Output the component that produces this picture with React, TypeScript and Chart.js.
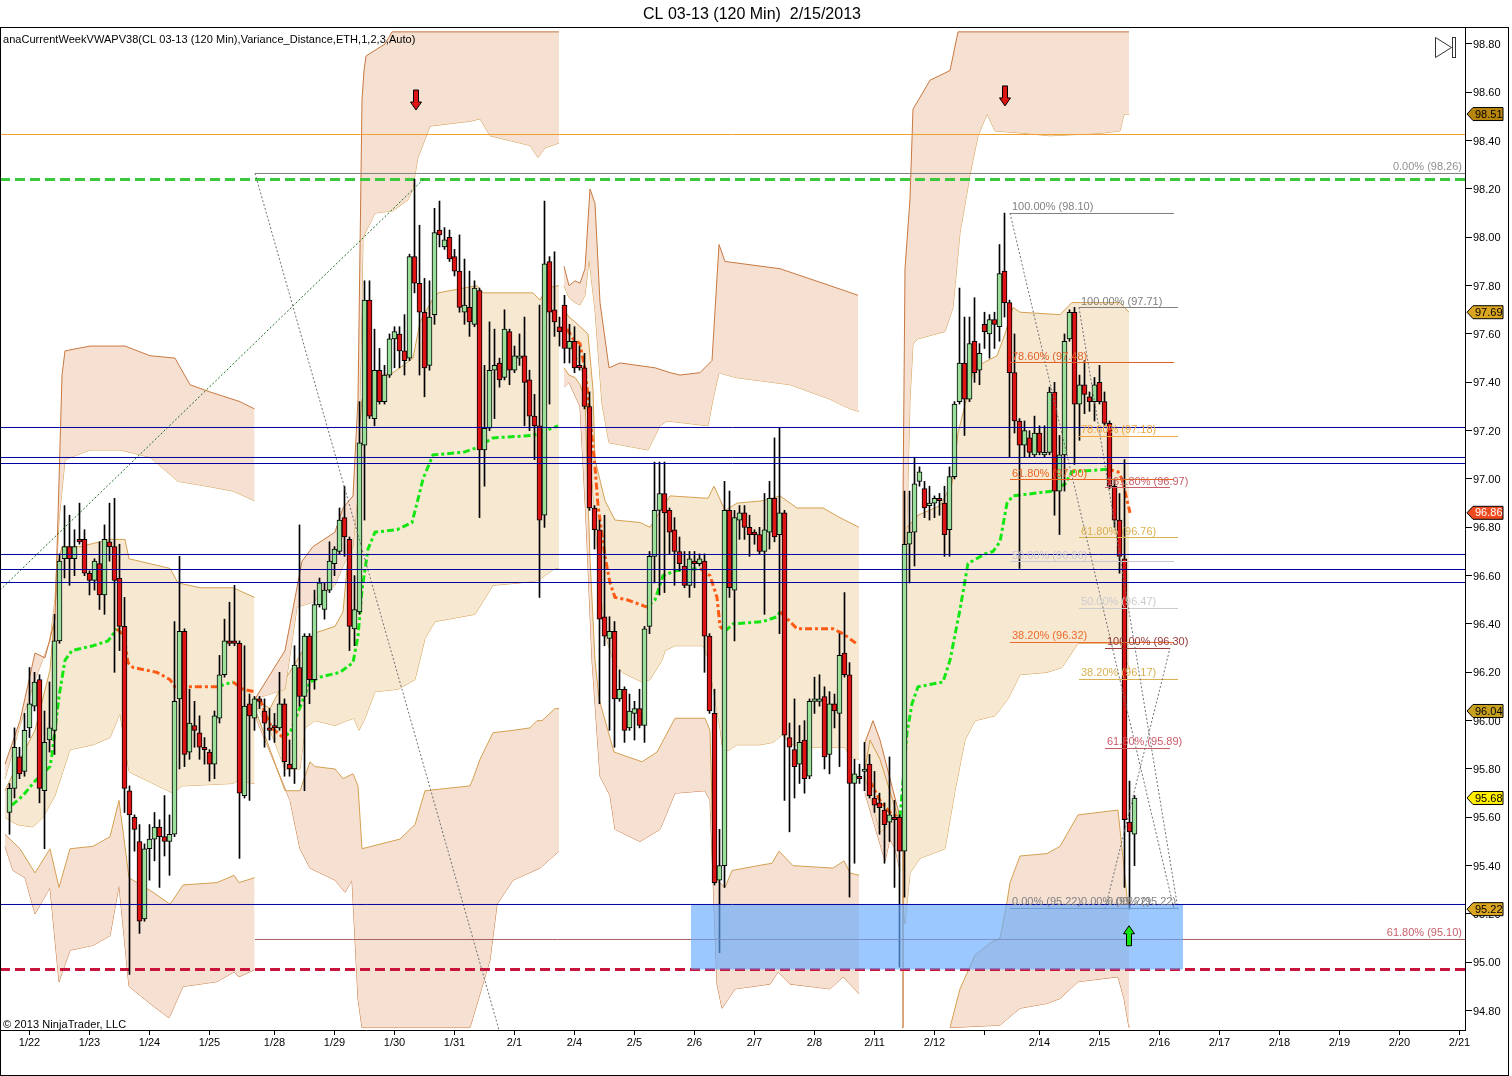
import React, { useEffect, useRef } from "react";
import { Chart, registerables } from "chart.js";

Chart.register(...registerables);

const FONT = "'Liberation Sans', Arial, sans-serif";

const opens = [95.62,95.72,95.85,95.79,95.97,96.06,96.17,95.71,95.92,95.96,96.33,96.67,96.72,96.67,96.75,96.75,96.61,96.58,96.65,96.52,96.74,96.72,96.59,96.39,95.71,95.60,95.50,95.18,95.47,95.51,95.56,95.52,95.50,95.53,96.09,96.37,95.87,95.98,95.95,95.89,95.87,95.82,96.01,96.19,96.33,96.33,96.32,95.69,96.07,96.01,96.09,96.04,95.97,95.98,95.97,96.07,95.82,95.80,96.22,96.10,96.35,96.17,96.48,96.46,96.54,96.65,96.70,96.84,96.75,96.38,96.45,97.14,97.74,97.25,97.45,97.32,97.43,97.58,97.60,97.53,97.50,97.92,97.81,97.69,97.47,97.68,98.03,97.96,98.00,97.92,97.86,97.69,97.71,97.64,97.78,97.12,97.21,97.45,97.48,97.42,97.61,97.45,97.50,97.51,97.41,97.26,97.22,96.85,97.90,97.70,97.63,97.72,97.54,97.57,97.47,97.46,97.30,96.88,96.79,96.43,96.34,96.37,96.09,96.13,95.97,96.03,96.05,95.98,96.39,96.68,96.87,96.94,96.87,96.79,96.70,96.64,96.56,96.66,96.65,96.66,96.35,96.03,95.34,95.40,96.87,96.54,96.83,96.86,96.80,96.78,96.77,96.70,96.78,96.92,96.77,96.86,95.93,95.88,95.82,95.92,95.77,96.08,96.08,96.10,95.86,96.07,96.03,96.28,96.19,95.74,95.77,95.79,95.82,95.68,95.66,95.63,95.58,95.60,95.60,95.46,96.73,96.78,96.99,96.96,96.89,96.90,96.92,96.90,96.79,97.01,97.32,97.48,97.33,97.57,97.45,97.64,97.60,97.66,97.63,97.86,97.73,97.44,97.24,97.14,97.17,97.10,97.19,97.10,97.11,97.36,96.95,97.10,97.58,97.69,97.31,97.39,97.34,97.32,97.40,97.32,97.23,96.97,96.83,96.67,95.58,95.53];
const closes = [95.72,95.89,95.78,95.96,96.07,96.16,95.72,95.91,95.97,96.33,96.66,96.72,96.67,96.72,96.74,96.61,96.58,96.66,96.52,96.75,96.72,96.58,96.39,95.72,95.61,95.55,95.17,95.47,95.51,95.56,95.52,95.50,95.53,96.08,96.37,95.86,95.99,95.96,95.89,95.88,95.82,96.02,96.19,96.33,96.32,96.32,95.70,96.06,96.02,96.09,96.08,95.99,95.96,95.97,96.07,95.83,95.80,96.23,96.10,96.35,96.17,96.48,96.57,96.54,96.66,96.71,96.83,96.76,96.39,96.46,97.15,97.74,97.26,97.45,97.32,97.43,97.58,97.61,97.53,97.49,97.92,97.81,97.69,97.46,97.67,98.02,98.01,97.99,97.91,97.86,97.71,97.72,97.65,97.79,97.12,97.21,97.45,97.47,97.41,97.62,97.45,97.51,97.51,97.40,97.26,97.22,96.83,97.89,97.69,97.65,97.61,97.54,97.57,97.46,97.46,97.30,96.88,96.79,96.42,96.35,96.37,96.09,96.13,95.96,96.04,96.05,95.98,96.38,96.68,96.87,96.94,96.86,96.78,96.70,96.65,96.56,96.67,96.65,96.67,96.35,96.04,95.33,95.40,96.87,96.55,96.84,96.86,96.80,96.77,96.77,96.70,96.79,96.92,96.76,96.86,95.94,95.89,95.81,95.91,95.76,96.08,96.09,96.09,95.85,96.07,96.04,96.27,96.19,95.74,95.78,95.76,95.80,95.69,95.65,95.64,95.57,95.61,95.59,95.46,96.73,96.78,96.98,97.03,96.88,96.90,96.92,96.91,96.77,97.01,97.31,97.48,97.33,97.56,97.44,97.52,97.61,97.66,97.64,97.85,97.73,97.44,97.24,97.14,97.20,97.11,97.19,97.11,97.11,97.36,96.95,97.10,97.57,97.69,97.31,97.39,97.35,97.32,97.39,97.32,97.23,96.97,96.83,96.68,95.59,95.54,95.68];
const highs = [95.74,95.97,95.89,96.03,96.22,96.20,96.19,96.04,96.16,96.44,96.69,96.89,96.85,96.79,96.90,96.79,96.62,96.67,96.74,96.81,96.90,96.92,96.73,96.51,95.73,95.61,95.57,95.49,95.57,95.62,95.59,95.69,95.61,96.41,96.68,96.38,96.13,96.08,96.02,95.93,95.88,96.04,96.27,96.42,96.49,96.56,96.33,96.31,96.11,96.10,96.10,96.09,96.05,96.03,96.20,96.09,95.92,96.31,96.81,96.36,96.36,96.54,96.59,96.57,96.74,96.72,96.88,96.97,96.76,96.60,97.32,97.82,97.82,97.62,97.54,97.47,97.60,97.63,97.63,97.68,97.93,98.24,98.05,97.83,97.82,98.12,98.15,98.04,98.03,97.95,98.01,97.91,97.86,97.82,97.79,97.47,97.65,97.62,97.50,97.70,97.62,97.55,97.60,97.67,97.45,97.35,97.72,98.15,97.92,97.94,97.67,97.76,97.64,97.63,97.55,97.52,97.36,96.89,96.83,96.85,96.43,96.41,96.21,96.14,96.11,96.08,96.13,96.39,96.70,97.07,97.07,97.07,96.88,96.84,96.76,96.70,96.70,96.70,96.69,96.69,96.36,96.13,95.55,96.99,96.95,96.87,96.89,96.89,96.85,96.79,96.80,96.94,96.99,97.17,97.21,96.87,95.99,96.09,95.98,96.00,96.09,96.18,96.19,96.14,96.12,96.11,96.36,96.53,96.24,95.84,95.82,95.91,95.86,95.79,95.70,95.66,95.85,95.67,95.61,96.95,96.95,97.09,97.05,96.99,96.97,96.93,96.94,96.97,97.05,97.32,97.79,97.67,97.67,97.75,97.56,97.69,97.68,97.69,97.97,98.10,97.74,97.60,97.25,97.24,97.20,97.26,97.22,97.22,97.38,97.40,97.18,97.60,97.70,97.71,97.43,97.49,97.36,97.42,97.47,97.36,97.24,97.00,96.94,97.08,95.75,95.69];
const lows = [95.53,95.68,95.76,95.77,95.93,96.04,95.66,95.47,95.87,95.86,96.32,96.59,96.56,96.60,96.73,96.60,96.52,96.54,96.46,96.44,96.66,96.20,96.29,95.62,94.95,95.46,95.12,95.17,95.34,95.42,95.31,95.44,95.36,95.52,95.80,95.81,95.84,95.89,95.84,95.82,95.75,95.76,95.99,96.18,96.31,96.31,95.43,95.68,95.67,95.96,96.05,95.89,95.92,95.91,95.96,95.77,95.77,95.74,96.06,95.71,96.07,96.13,96.47,96.42,96.53,96.60,96.69,96.68,96.29,96.31,96.44,96.83,97.25,97.22,97.31,97.31,97.42,97.46,97.46,97.43,97.49,97.77,97.43,97.34,97.45,97.64,97.96,97.95,97.90,97.84,97.69,97.64,97.59,97.63,96.84,96.97,97.20,97.25,97.38,97.41,97.39,97.44,97.47,97.22,97.20,97.08,96.51,96.80,97.31,97.59,97.55,97.48,97.48,97.44,97.45,97.29,96.87,96.71,96.07,96.31,95.96,95.89,96.08,95.91,95.96,95.92,95.97,95.91,96.36,96.57,96.52,96.53,96.69,96.56,96.62,96.55,96.51,96.55,96.64,96.20,96.03,95.32,95.04,95.31,96.51,96.33,96.75,96.75,96.68,96.73,96.69,96.44,96.71,96.74,96.36,95.67,95.54,95.68,95.74,95.70,95.76,96.03,96.06,95.80,95.78,95.97,95.81,96.18,95.27,95.41,95.74,95.71,95.68,95.62,95.53,95.41,95.50,95.31,94.98,95.27,96.57,96.64,96.97,96.84,96.83,96.84,96.85,96.68,96.68,97.00,97.31,97.18,97.32,97.40,97.39,97.54,97.50,97.54,97.57,97.67,97.09,97.19,96.63,97.09,97.09,97.09,97.10,97.09,97.10,96.85,96.77,96.95,97.57,97.06,97.16,97.27,97.28,97.24,97.31,97.22,96.96,96.80,96.61,95.31,95.22,95.40];

const tickBars = [5,17,29,41,54,66,78,90,102,114,126,138,150,162,174,186,196,207,219,231,243,255,267,279,291];
const tickLabels = ["1/22","1/23","1/24","1/25","1/28","1/29","1/30","1/31","2/1","2/4","2/5","2/6","2/7","2/8","2/11","2/12","","2/14","2/15","2/16","2/17","2/18","2/19","2/20","2/21"];

// Week 1 indicator bands
const w1OuterTopX = [0.1,3.1,6.1,8.1,10.1,10.9,11.5,12.1,17.1,24.1,29.1,34.1,37.1,41.1,47.1,50];
const w1OuterTop = [95.82,96.00,96.28,96.26,96.42,96.99,97.43,97.53,97.55,97.55,97.51,97.50,97.39,97.36,97.32,97.29];
const w1OuterBotX = [0.1,3.1,6.1,9.1,10.1,10.9,12.1,17.1,23.1,29.1,34.7,40.5,45.7,50];
const w1OuterBot = [95.76,95.98,96.17,96.33,96.50,96.83,97.08,97.12,97.12,97.09,96.99,96.97,96.95,96.91];
const w1InUpX = [0.1,3.1,6.1,9.1,10.9,11.5,15.1,21.1,24.1,24.9,33.1,34.7,39.1,45.7,50];
const w1InUp = [95.71,95.84,95.96,96.21,96.67,96.72,96.72,96.75,96.75,96.67,96.63,96.57,96.55,96.55,96.51];
const w1InLowX = [0.1,2.5,5.7,7.7,10.1,13.1,17.7,21.1,23.1,24.9,25.7,33.7,35.5,45.7,46.5,50];
const w1InLow = [95.60,95.57,95.56,95.60,95.69,95.88,95.90,95.93,96.03,95.79,95.78,95.70,95.73,95.74,95.75,95.74];
const w1LowTopX = [0.1,3.1,6.1,9.1,10.9,13.1,17.7,21.1,22.9,24.9,29.7,33.1,35.7,42.5,45.9,46.9,50];
const w1LowTop = [95.53,95.47,95.37,95.47,95.31,95.47,95.48,95.52,95.67,95.35,95.29,95.24,95.32,95.33,95.36,95.33,95.35];
const w1LowBotX = [0.1,1.7,4.1,6.1,9.1,10.9,13.1,17.7,21.1,22.9,24.9,29.7,32.9,35.7,42.5,45.9,46.9,50];
const w1LowBot = [95.48,95.38,95.35,95.20,95.31,94.92,95.05,95.07,95.11,95.32,94.90,94.82,94.77,94.90,94.92,94.96,94.94,94.97];
const w1VwapX = [1.5,3.7,6.1,9.1,9.5,10.1,10.9,12.1,13.5,17.7,20.7,22.5,23.9,24.7,25.7,30.5,33.1,34.1,42.5,45.7,47.7,50];
const w1Vwap = [95.65,95.69,95.75,95.81,95.86,95.96,96.10,96.25,96.29,96.31,96.33,96.38,96.35,96.24,96.22,96.20,96.17,96.14,96.14,96.16,96.13,96.12];

// Week 2
const w2OuterTopX = [50.1,56.1,59.5,61.7,66.1,67.7,69.7,70.7,71.5,71.9,72.3,76.1,77.5,110.9];
const w2OuterTop = [96.09,96.29,96.66,96.72,96.78,96.88,96.93,97.33,98.57,98.69,98.75,98.80,98.85,98.85];
const w2OuterBotX = [50.1,56.1,58.5,61.7,66.1,67.7,69.7,70.7,71.5,71.7,74.1,77.7,80.7,81.7,82.1,82.7,85.1,93.1,95.1,97.1,105.1,106.7,108.1,110.9];
const w2OuterBot = [96.09,96.13,96.47,96.49,96.56,96.64,96.72,96.95,97.74,98.00,98.10,98.11,98.155,98.20,98.26,98.33,98.46,98.48,98.49,98.42,98.38,98.33,98.37,98.39];
const w2InUpX = [50.1,53.1,56.1,59.1,61.7,66.1,67.7,70.1,71.5,73.5,77.7,81.7,83.1,85.5,86.7,94.5,95.7,105.7,107.1,108.5,110.9];
const w2InUp = [96.09,96.05,96.17,96.27,96.36,96.39,96.45,96.995,97.33,97.42,97.44,97.50,97.65,97.74,97.77,97.80,97.77,97.77,97.74,97.79,97.80];
const w2InLowX = [50.1,53.1,56.1,59.1,60.1,62.1,66.1,68.5,69.9,70.9,72.1,74.1,78.7,82.1,84.1,86.1,94.1,97.7,103.1,106.7,110.1,110.9];
const w2InLow = [96.07,95.96,95.80,95.80,95.97,96.00,95.98,96.00,96.01,95.96,96.01,96.12,96.13,96.17,96.34,96.41,96.44,96.56,96.57,96.58,96.63,96.63];
const w2LowTopX = [50.1,56.1,59.1,61.1,62.1,66.1,67.7,69.7,70.7,71.5,79.1,82.1,84.1,93.1,93.7,95.1,97.7,101.7,105.1,106.5,107.5,110.1,110.9];
const w2LowTop = [96.05,95.71,95.71,95.83,95.81,95.80,95.76,95.78,95.73,95.47,95.51,95.57,95.71,95.73,95.76,95.84,95.95,95.96,95.97,96.00,96.00,96.05,96.05];
const w2LowBotX = [50.1,57.1,59.1,61.1,66.1,68.1,69.5,70.7,71.5,93.1,97.1,98.5,101.7,107.1,110.9];
const w2LowBot = [96.02,95.67,95.47,95.39,95.34,95.29,95.34,94.85,94.73,94.73,95.01,95.24,95.34,95.39,95.46];
const w2VwapX = [51.1,52.1,53.5,55.7,57.1,61.1,63.1,67.1,69.7,70.7,71.5,72.7,74.1,78.5,81.5,82.5,83.7,85.7,91.7,94.5,97.7,105.7,110.7];
const w2Vwap = [96.09,96.03,95.97,95.93,95.95,96.16,96.18,96.20,96.24,96.35,96.54,96.71,96.78,96.79,96.82,96.90,97.00,97.10,97.11,97.13,97.17,97.18,97.22];

// Week 3
const w3OuterTopX = [111.9,112.9,114.1,115.1,116.1,117.1,118.1,119.1,120.9,123.1,130.1,133.1,135.1,139.1,141.5,142.9,144.1,155.1,165.1,170.7];
const w3OuterTop = [97.88,97.80,97.82,97.81,97.87,98.20,98.14,97.73,97.46,97.48,97.46,97.44,97.43,97.44,97.49,97.97,97.90,97.87,97.80,97.76];
const w3OuterBotX = [111.9,112.9,114.1,115.1,116.1,116.9,118.1,119.5,120.9,128.7,131.1,132.5,140.7,141.7,142.9,146.1,157.1,165.1,169.1,170.9];
const w3OuterBot = [97.80,97.75,97.73,97.72,97.76,97.91,97.70,97.31,97.15,97.12,97.22,97.24,97.22,97.33,97.44,97.42,97.39,97.33,97.29,97.28];
const w3InUpX = [111.9,112.9,114.1,116.7,117.7,118.1,120.1,122.1,127.1,129.1,133.1,140.7,141.9,144.1,146.5,151.7,155.1,158.5,163.7,167.1,170.9];
const w3InUp = [97.70,97.67,97.65,97.60,97.37,97.08,96.91,96.83,96.82,96.80,96.93,96.92,96.97,96.87,96.90,96.91,96.93,96.88,96.88,96.84,96.80];
const w3InLowX = [111.9,114.1,116.1,117.5,118.7,120.1,121.7,123.5,127.5,129.1,131.5,132.1,134.1,139.7,140.7,142.1,143.1,143.7,145.1,146.5,151.1,153.7,155.5,157.7,161.7,168.1,169.1,170.9];
const w3InLow = [97.55,97.53,97.41,97.00,96.67,96.36,96.25,96.20,96.16,96.17,96.25,96.29,96.31,96.31,96.26,96.09,95.97,95.87,95.88,95.90,95.90,95.91,95.94,95.90,95.89,95.89,95.85,95.84];
const w3LowTopX = [111.9,112.9,114.1,115.1,116.1,117.1,118.1,118.9,121.9,127.5,130.5,134.1,140.1,141.1,141.9,144.1,145.5,150.7,153.5,154.9,157.7,165.7,167.9,169.1,170.9];
const w3LowTop = [97.46,97.43,97.42,97.39,97.33,96.67,96.25,96.09,95.87,95.83,95.87,96.01,96.01,95.96,95.35,95.31,95.38,95.40,95.41,95.46,95.40,95.39,95.42,95.37,95.36];
const w3LowBotX = [111.9,112.9,115.1,116.3,117.5,119.1,121.1,122.1,127.1,131.1,134.1,140.1,141.1,142.5,143.5,146.1,153.1,154.7,157.1,165.1,167.7,170.9];
const w3LowBot = [97.38,97.40,97.30,96.83,96.25,95.77,95.69,95.55,95.50,95.55,95.70,95.71,95.67,94.91,94.81,94.89,94.91,94.96,94.91,94.89,94.94,94.87];
const w3VwapX = [112.5,113.7,115.1,116.1,116.7,118.1,118.7,120.1,121.1,122.1,124.5,128.5,130.1,131.7,134.1,139.1,141.1,142.5,143.1,144.1,145.7,151.7,154.5,155.1,157.1,158.5,165.7,167.7,170.3];
const w3Vwap = [97.62,97.58,97.56,97.45,97.34,97.05,96.89,96.68,96.57,96.51,96.50,96.47,96.50,96.60,96.62,96.63,96.60,96.51,96.39,96.37,96.40,96.41,96.43,96.45,96.41,96.38,96.38,96.36,96.32];

// Short session wedge
const wedgeTopX = [172.1,173.7,175.1,179.1];
const wedgeTop = [95.91,96.00,95.92,95.60];
const wedgeBotX = [172.1,176.1,177.1,178.1,179.1];
const wedgeBot = [95.70,95.42,95.51,95.47,95.38];
const wedgeInTopX = [172.1,173.1,175.1,178.7];
const wedgeInTop = [95.80,95.92,95.84,95.60];
const wedgeInBotX = [172.1,175.1,178.7];
const wedgeInBot = [95.77,95.54,95.60];
const wedgeVwapX = [173.1,175.1,177.1,178.7];
const wedgeVwap = [95.75,95.67,95.62,95.60];

// Week 4
const w4OuterTopX = [179.5,179.7,180.1,181.1,181.7,185.1,189.1,190.7,224.9];
const w4OuterTop = [94.73,96.91,97.87,98.16,98.53,98.65,98.69,98.85,98.85];
const w4OuterBotX = [179.5,179.7,180.1,181.1,181.7,182.7,188.1,189.7,191.1,192.3,193.1,194.7,196.5,198.1,204.1,209.1,219.1,223.1,223.9,224.9];
const w4OuterBot = [94.73,95.26,96.50,97.33,97.56,97.58,97.61,97.71,98.02,98.16,98.26,98.42,98.51,98.44,98.43,98.42,98.43,98.44,98.51,98.51];
const w4InUpX = [179.7,180.1,182.7,187.1,189.5,190.7,192.5,193.7,195.7,198.5,200.1,201.7,203.1,211.1,213.5,223.1,224.9];
const w4InUp = [95.38,96.79,96.85,96.89,96.98,97.19,97.34,97.44,97.48,97.51,97.60,97.71,97.69,97.68,97.73,97.73,97.69];
const w4InLowX = [179.7,180.1,181.1,183.1,188.1,190.1,192.1,194.1,198.1,200.7,203.1,208.5,211.5,214.7,223.1,225.1];
const w4InLow = [95.26,95.16,95.37,95.43,95.47,95.71,95.92,96.00,96.02,96.09,96.19,96.20,96.22,96.32,96.32,96.21];
const w4LowTopX = [189.1,191.1,194.1,197.1,199.1,200.5,201.1,203.1,208.5,211.1,214.7,222.7,224.5,224.9];
const w4LowTop = [94.73,94.89,95.03,95.08,95.10,95.25,95.33,95.44,95.45,95.48,95.61,95.63,95.27,95.23];
const w4LowBotX = [189.1,199.1,203.1,208.5,211.1,214.7,222.7,223.9,224.9];
const w4LowBot = [94.73,94.74,94.81,94.83,94.85,94.92,94.94,94.85,94.73];
const w4VwapX = [179.1,180.5,181.5,182.7,187.7,189.1,191.1,192.7,196.1,197.7,199.1,200.5,201.7,209.7,212.1,213.5,220.5,222.7,223.5,225.1];
const w4Vwap = [95.60,95.95,96.07,96.14,96.16,96.25,96.46,96.65,96.69,96.70,96.74,96.90,96.93,96.95,96.98,97.03,97.04,97.03,97.00,96.86];

// Levels
const navyLevels = [97.213,97.0889,97.064,96.6875,96.6254,96.5716,95.2393];
const orangeLevel = 98.4253;
const greenLevel = 98.2391;
const redLevel = 94.9703;
const grayLevel = 98.264;
const roseLevel = 95.0945;
const zoneX = [137.3,235.7];
const zonePrices = [95.2373,94.9703];

// Fibonacci groups
const fibAStart = 201.1; const fibAEnd = 233.9;
const fibALabels = ["100.00% (98.10)","78.60% (97.48)","61.80% (97.00)","50.00% (96.66)","38.20% (96.32)","0.00% (95.22)"];
const fibAPrices = [98.0985,97.4819,96.9978,96.6585,96.3234,95.2228];
const fibAColors = ["#808080","#E0602A","#E8641E","#C8C8D2","#EC6A2A","#808080"];
const fibBStart = 214.9; const fibBEnd = 234.7;
const fibBLabels = ["100.00% (97.71)","78.60% (97.18)","61.80% (96.76)","50.00% (96.47)","38.20% (96.17)","0.00% (95.22)"];
const fibBPrices = [97.7095,97.1758,96.7578,96.4641,96.1703,95.2228];
const fibBColors = ["#808080","#EFA640","#D9B050","#CCCCCC","#D9B050","#808080"];
const fibCStart = 220.1; const fibCEnd = 233.1;
const fibCLabels = ["161.80% (96.97)","100.00% (96.30)","61.80% (95.89)","0.00% (95.22)"];
const fibCPrices = [96.9647,96.2986,95.8848,95.2228];
const fibCColors = ["#C8606A","#963838","#CC5A68","#808080"];

const trendAX = [50.1,98.9]; const trendAY = [98.265,94.72];
const trendBX = [201.1,233.9]; const trendBY = [98.10,95.22];
const trendCX = [214.9,234.7]; const trendCY = [97.71,95.22];
const trendDX = [220.1,233.1]; const trendDY = [95.22,96.30];
const trendEX = [-0.9,84.1]; const trendEY = [96.54,98.246];

const tagPrices = [98.51,97.69,96.86,96.04,95.68,95.22];
const tagFill = ["#B8860B","#DAA520","#F04A20","#C8A020","#FFEE00","#DAA520"];
const tagText = ["#000000","#000000","#FFFFFF","#000000","#000000","#000000"];

const arrowX = [82.3,200.1,224.9];
const arrowP = [98.568,98.585,95.11];
const arrowUp = [false,false,true];

const SALMON = "rgba(245,224,210,1)";
const WHEAT = "rgba(247,232,210,1)";
const EDGE_O = "#C87840";
const EDGE_T = "#D4A050";
const VW_G = "#14E614";
const VW_O = "#FF5A14";

const pts = (xs: number[], ys: number[]) => xs.map((x, k) => ({ x, y: ys[k] }));

const line = (xs: number[], ys: number[], color: string, width: number, order: number, extra: any = {}) => ({
  type: "line",
  data: pts(xs, ys),
  borderColor: color,
  borderWidth: width,
  pointRadius: 0,
  tension: 0,
  fill: false,
  order,
  ...extra,
});

const band = (xa: number[], a: number[], xb: number[], b: number[], fill: string, ea: string, eb: string, order: number) => [
  line(xa, a, ea, 1, order, { fill: "+1", backgroundColor: fill }),
  line(xb, b, eb, 1, order),
];

const vwap = (xs: number[], ys: number[]) =>
  line(xs, ys, VW_G, 3, 60, {
    borderDash: [7, 3, 3, 3],
    segment: { borderColor: (c: any) => (c.p1.parsed.y > c.p0.parsed.y ? VW_G : VW_O) },
  });

const level = (p: number, color: string, width: number, order: number, from = -0.9, extra: any = {}) =>
  line([from, 292.1], [p, p], color, width, order, extra);

const overlay = {
  id: "overlay",
  afterDraw(chart: any) {
    const { ctx, scales } = chart;
    const X = scales.x, Y = scales.y;
    ctx.save();
    ctx.textBaseline = "alphabetic";
    ctx.fillStyle = "#000";
    ctx.font = `16px ${FONT}`;
    ctx.textAlign = "center";
    ctx.fillText("CL 03-13 (120 Min)  2/15/2013", 752, 19);
    ctx.textAlign = "left";
    ctx.font = `11px ${FONT}`;
    ctx.letterSpacing = "0.04px";
    ctx.fillText("anaCurrentWeekVWAPV38(CL 03-13 (120 Min),Variance_Distance,ETH,1,2,3,Auto)", 3, 43);
    ctx.letterSpacing = "0.08px";
    ctx.fillText("\u00A9 2013 NinjaTrader, LLC", 3, 1028);
    ctx.letterSpacing = "0px";

    const labels = (xv: number, names: string[], prices: number[], colors: string[]) => {
      names.forEach((n, k) => {
        ctx.fillStyle = colors[k];
        ctx.fillText(n, X.getPixelForValue(xv) + 2, Y.getPixelForValue(prices[k]) - 3);
      });
    };
    labels(fibAStart, fibALabels, fibAPrices, fibAColors);
    labels(fibBStart, fibBLabels, fibBPrices, fibBColors);
    labels(fibCStart, fibCLabels, fibCPrices, fibCColors);
    ctx.textAlign = "right";
    ctx.fillStyle = "#909090";
    ctx.fillText("0.00% (98.26)", 1462, Y.getPixelForValue(grayLevel) - 3);
    ctx.fillStyle = "#C8606A";
    ctx.fillText("61.80% (95.10)", 1462, Y.getPixelForValue(roseLevel) - 3);
    ctx.textAlign = "left";

    arrowX.forEach((ax, k) => {
      const cx = X.getPixelForValue(ax);
      const cy = Y.getPixelForValue(arrowP[k]);
      const d = arrowUp[k] ? -1 : 1;
      ctx.beginPath();
      ctx.moveTo(cx - 2.5, cy - 10 * d);
      ctx.lineTo(cx + 2.5, cy - 10 * d);
      ctx.lineTo(cx + 2.5, cy + 2 * d);
      ctx.lineTo(cx + 5.5, cy + 2 * d);
      ctx.lineTo(cx, cy + 10 * d);
      ctx.lineTo(cx - 5.5, cy + 2 * d);
      ctx.lineTo(cx - 2.5, cy + 2 * d);
      ctx.closePath();
      ctx.fillStyle = arrowUp[k] ? "#14E614" : "#DC1414";
      ctx.fill();
      ctx.strokeStyle = "#000";
      ctx.lineWidth = 1;
      ctx.stroke();
    });

    tagPrices.forEach((p, k) => {
      const cy = Y.getPixelForValue(p);
      ctx.beginPath();
      ctx.moveTo(1467, cy);
      ctx.lineTo(1473, cy - 6.5);
      ctx.lineTo(1503, cy - 6.5);
      ctx.lineTo(1503, cy + 6.5);
      ctx.lineTo(1473, cy + 6.5);
      ctx.closePath();
      ctx.fillStyle = tagFill[k];
      ctx.fill();
      ctx.strokeStyle = "#000";
      ctx.lineWidth = 1;
      ctx.stroke();
      ctx.fillStyle = tagText[k];
      ctx.textBaseline = "middle";
      ctx.fillText(p.toFixed(2), 1475, cy + 0.5);
      ctx.textBaseline = "alphabetic";
    });

    ctx.strokeStyle = "#333";
    ctx.lineWidth = 1;
    ctx.beginPath();
    ctx.moveTo(1435.5, 37.5);
    ctx.lineTo(1451.5, 47.5);
    ctx.lineTo(1435.5, 57.5);
    ctx.closePath();
    ctx.stroke();
    ctx.strokeRect(1452.5, 37.5, 3, 20);

    ctx.strokeStyle = "#000";
    ctx.strokeRect(0.5, 27.5, 1508, 1048);
    ctx.restore();
  },
};

export default function App() {
  const ref = useRef<HTMLCanvasElement | null>(null);
  useEffect(() => {
    document.body.style.margin = "0";
    const idx = opens.map((_, k) => k + 1);
    const datasets: any[] = [
      ...band(w1OuterTopX, w1OuterTop, w1OuterBotX, w1OuterBot, SALMON, EDGE_O, EDGE_T, 100),
      ...band(w1InUpX, w1InUp, w1InLowX, w1InLow, WHEAT, EDGE_T, EDGE_T, 100),
      ...band(w1LowTopX, w1LowTop, w1LowBotX, w1LowBot, SALMON, EDGE_T, EDGE_O, 100),
      ...band(w2OuterTopX, w2OuterTop, w2OuterBotX, w2OuterBot, SALMON, EDGE_O, EDGE_T, 100),
      ...band(w2InUpX, w2InUp, w2InLowX, w2InLow, WHEAT, EDGE_T, EDGE_T, 100),
      ...band(w2LowTopX, w2LowTop, w2LowBotX, w2LowBot, SALMON, EDGE_T, EDGE_O, 100),
      ...band(w3OuterTopX, w3OuterTop, w3OuterBotX, w3OuterBot, SALMON, EDGE_O, EDGE_T, 100),
      ...band(w3InUpX, w3InUp, w3InLowX, w3InLow, WHEAT, EDGE_T, EDGE_T, 100),
      ...band(w3LowTopX, w3LowTop, w3LowBotX, w3LowBot, SALMON, EDGE_T, EDGE_O, 100),
      ...band(wedgeTopX, wedgeTop, wedgeBotX, wedgeBot, SALMON, EDGE_O, EDGE_O, 100),
      ...band(wedgeInTopX, wedgeInTop, wedgeInBotX, wedgeInBot, WHEAT, EDGE_T, EDGE_T, 99),
      ...band(w4OuterTopX, w4OuterTop, w4OuterBotX, w4OuterBot, SALMON, EDGE_O, EDGE_T, 100),
      ...band(w4InUpX, w4InUp, w4InLowX, w4InLow, WHEAT, EDGE_T, EDGE_T, 100),
      ...band(w4LowTopX, w4LowTop, w4LowBotX, w4LowBot, SALMON, EDGE_T, EDGE_O, 100),
      vwap(w1VwapX, w1Vwap),
      vwap(w2VwapX, w2Vwap),
      vwap(w3VwapX, w3Vwap),
      vwap(wedgeVwapX, wedgeVwap),
      vwap(w4VwapX, w4Vwap),
      level(greenLevel, "#3CC83C", 3, 70, -0.9, { borderDash: [10, 5] }),
      level(redLevel, "#C8143C", 3, 70, -0.9, { borderDash: [10, 5] }),
      level(orangeLevel, "#F0A030", 1, 70),
      {
        type: "bar",
        grouped: false,
        barThickness: 1,
        order: 50,
        backgroundColor: "#000",
        borderWidth: 0,
        data: idx.map((x, k) => ({ x, y: [lows[k], highs[k]] })),
      },
      {
        type: "bar",
        grouped: false,
        barThickness: 5,
        order: 40,
        backgroundColor: idx.map((_, k) => (closes[k] >= opens[k] ? "#9ADF9A" : "#DC1414")),
        borderColor: "#000",
        borderWidth: 1,
        borderSkipped: false,
        data: idx.map((x, k) => ({ x, y: [opens[k], closes[k]] })),
      },
      ...navyLevels.map((p) => level(p, "#0000A0", 1, 30)),
      level(grayLevel, "#808080", 1, 30, 50.1),
      level(roseLevel, "#A86060", 1, 30, 50.1),
      line(trendAX, trendAY, "#707070", 1, 30, { borderDash: [2, 2] }),
      line(trendBX, trendBY, "#707070", 1, 30, { borderDash: [2, 2] }),
      line(trendCX, trendCY, "#707070", 1, 30, { borderDash: [2, 2] }),
      line(trendDX, trendDY, "#707070", 1, 30, { borderDash: [2, 2] }),
      line(trendEX, trendEY, "#1E6E1E", 1, 30, { borderDash: [2, 2] }),
      ...fibAPrices.map((p, k) => line([fibAStart, fibAEnd], [p, p], fibAColors[k], 1, 30)),
      ...fibBPrices.map((p, k) => line([fibBStart, fibBEnd], [p, p], fibBColors[k], 1, 30)),
      ...fibCPrices.map((p, k) => line([fibCStart, fibCEnd], [p, p], fibCColors[k], 1, 30)),
      line(zoneX, [zonePrices[0], zonePrices[0]], "rgba(0,0,0,0)", 0, 20, {
        fill: "+1",
        backgroundColor: "rgba(100,170,255,0.65)",
      }),
      line(zoneX, [zonePrices[1], zonePrices[1]], "rgba(0,0,0,0)", 0, 20),
    ];
    const chart = new Chart(ref.current as HTMLCanvasElement, {
      type: "bar",
      data: { datasets },
      plugins: [overlay],
      options: {
        animation: false,
        responsive: false,
        devicePixelRatio: 1,
        events: [],
        layout: { padding: { left: 0, right: 3, top: 28, bottom: 1 } },
        plugins: { legend: { display: false }, tooltip: { enabled: false }, title: { display: false } },
        scales: {
          x: {
            type: "linear",
            min: -0.9,
            max: 292.1,
            offset: false,
            afterFit: (s: any) => { s.height = 45; },
            afterBuildTicks: (s: any) => { s.ticks = tickBars.map((value) => ({ value })); },
            grid: { drawOnChartArea: false, offset: false, tickLength: 5, tickColor: "#000" },
            border: { color: "#000" },
            ticks: {
              autoSkip: false,
              maxRotation: 0,
              minRotation: 0,
              padding: 1,
              color: "#000",
              font: { family: FONT, size: 11 },
              callback: (_v: any, i: number) => tickLabels[i],
            },
          },
          y: {
            position: "right",
            min: 94.72,
            max: 98.866,
            afterFit: (s: any) => { s.width = 44; },
            grid: { drawOnChartArea: false, tickLength: 7, tickColor: "#000" },
            border: { color: "#000" },
            ticks: {
              stepSize: 0.2,
              includeBounds: false,
              padding: 1,
              labelOffset: 1,
              color: "#000",
              font: { family: FONT, size: 11 },
              callback: (v: any) => Number(v).toFixed(2),
            },
          },
        },
      } as any,
    } as any);
    return () => chart.destroy();
  }, []);
  return (
    <div style={{ width: 1512, height: 1076, background: "#fff" }}>
      <canvas ref={ref} width={1512} height={1076} style={{ display: "block" }} />
    </div>
  );
}
